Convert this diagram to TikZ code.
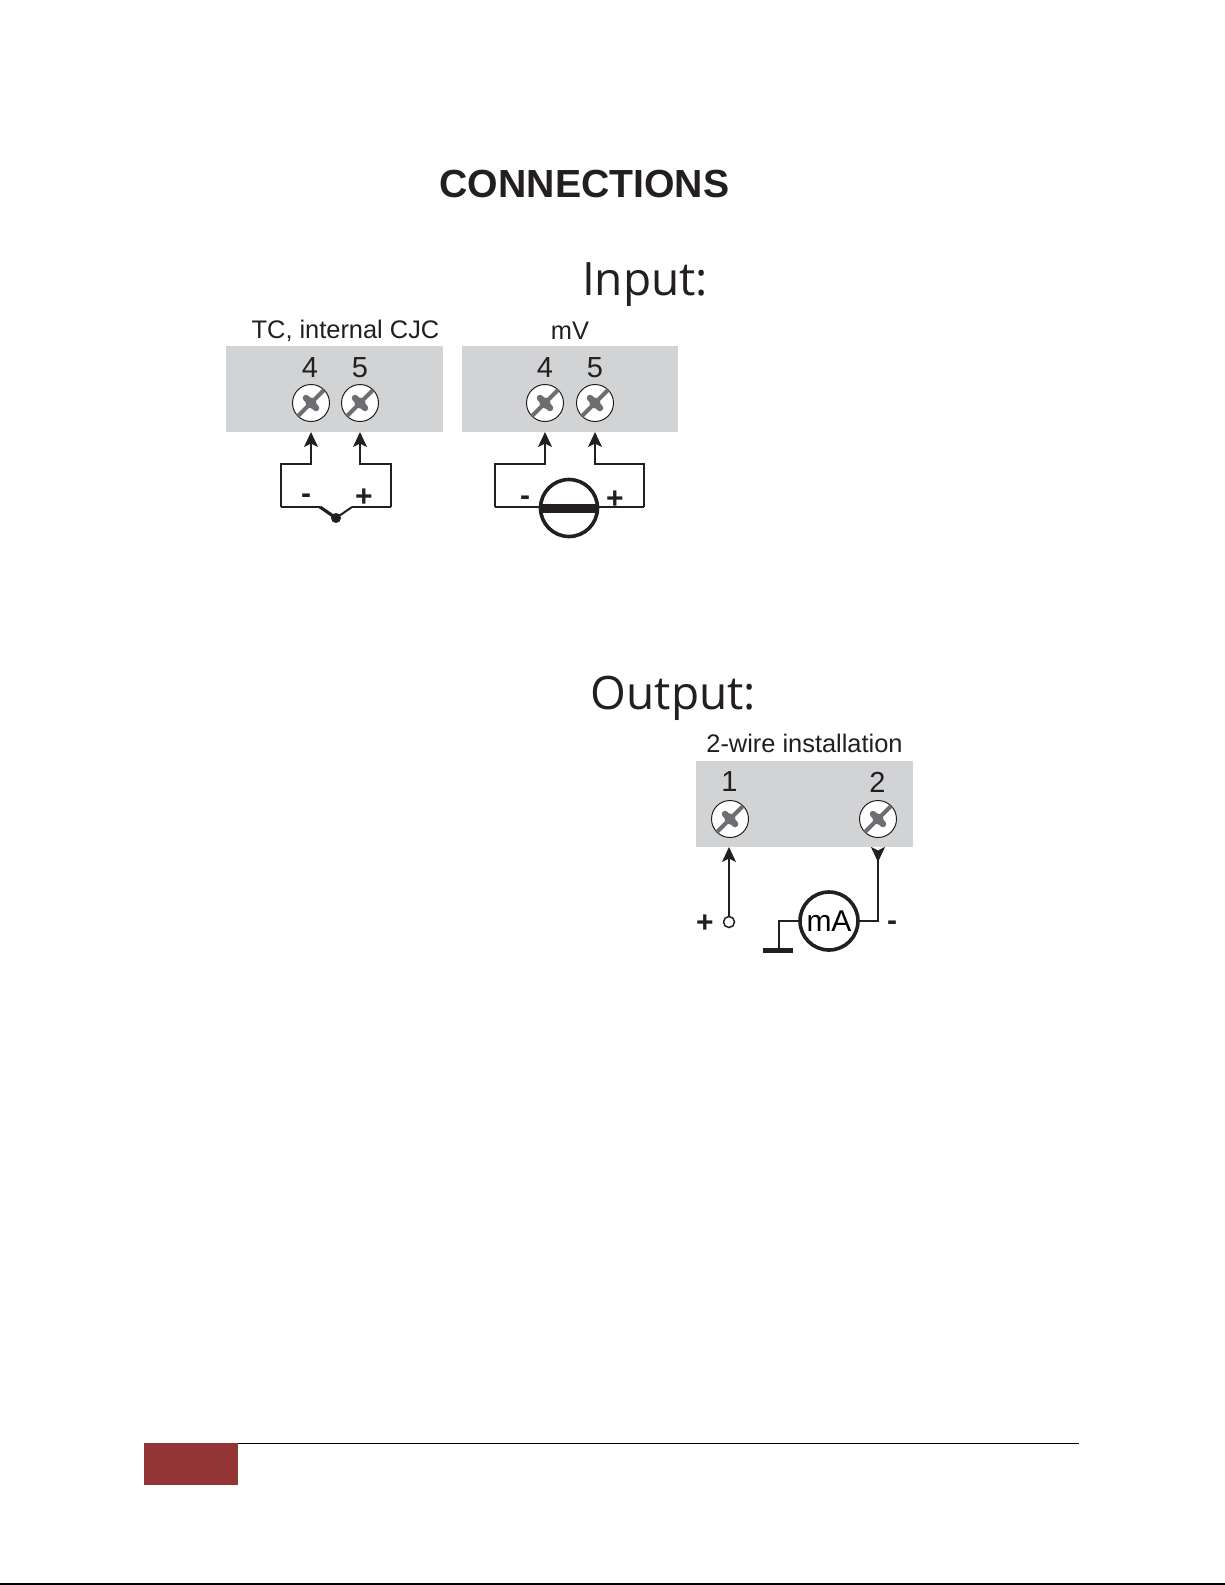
\documentclass[tikz,border=0pt]{standalone}
\usepackage{fontspec}
\setmainfont{Liberation Sans}
\newfontfamily\headfont{Open Sans}
\usetikzlibrary{arrows.meta}
\definecolor{ink}{HTML}{231F20}
\definecolor{panel}{HTML}{D1D3D4}
\definecolor{slot}{HTML}{6D6E71}
\definecolor{brick}{HTML}{943535}
\newcommand{\fsz}[1]{\fontsize{#1}{#1}\selectfont}
\tikzset{
  x=1pt,y=-1pt,
  panelbox/.style={fill=panel,draw=none,minimum width=217pt,minimum height=86pt,inner sep=0pt,anchor=north west},
  screw/.style={circle,draw=ink,fill=white,line width=1pt,minimum size=37pt,inner sep=0pt},
  wire/.style={draw=ink,line width=1.4pt,line join=miter},
  feed/.style={wire,-{Stealth[length=15pt,width=14pt,inset=3.5pt]}},
  lab/.style={text=ink,inner sep=0pt,anchor=center},
  meter/.style={circle,draw=ink,fill=white,line width=3.6pt,inner sep=0pt},
}
\newcommand{\screwcross}[1]{%
  \draw[slot,line width=4pt] ([xshift=-13pt,yshift=-13pt]#1.center) -- ([xshift=13pt,yshift=13pt]#1.center);
  \draw[slot,line width=6.5pt,line cap=round] ([xshift=-5pt,yshift=5pt]#1.center) -- ([xshift=5pt,yshift=-5pt]#1.center);
  \fill[slot] (#1.center) circle (5.5pt);
}
\begin{document}
\begin{tikzpicture}
\useasboundingbox (0,0) rectangle (1225,1585);
\fill[white] (0,0) rectangle (1225,1585);

\node[lab] (title) at (584.5,184) {\fsz{39.2}\bfseries CONNECTIONS};
\node[lab] (inputh) at (645,285) {\headfont\fsz{46}Input:};
\node[lab] (outputh) at (673.5,698) {\headfont\fsz{46}Output:};

% TC panel
\node[lab] (tclab) at (345.5,331) {\fsz{25.4}TC, internal CJC};
\node[panelbox] (p1) at (226,346) {};
\node[lab] (n14) at (310,368) {\fsz{29}4};
\node[lab] (n15) at (360,368) {\fsz{29}5};
\node[screw] (s14) at (311,403) {};
\node[screw] (s15) at (360,403) {};
\screwcross{s14}\screwcross{s15}
\coordinate (t14) at (311,432);
\coordinate (t15) at (360,432);
\coordinate (a) at (281,464);
\coordinate (b) at (281,507);
\coordinate (c) at (391,464);
\coordinate (d) at (391,507);
\coordinate (j) at (336,518);
\coordinate (jl) at (320,507);
\coordinate (jr) at (352,507);
\draw[feed] (b) -- (a) -- (a -| t14) -- (t14);
\draw[feed] (d) -- (c) -- (c -| t15) -- (t15);
\draw[wire] (b) -- (jl);
\draw[wire] (d) -- (jr);
\draw[ink,line width=2.2pt] (297,507) -- (jl);
\draw[ink,line width=3.2pt,line join=round] (jl) -- (j);
\draw[ink,line width=2pt] (j) -- (jr);
\fill[ink] (j) circle (5pt);
\node[lab] (m1) at (306,499) {\fsz{30}\bfseries -};
\node[lab] (pl1) at (364,498) {\fsz{30}\bfseries +};

% mV panel
\node[lab] (mvlab) at (570,331) {\fsz{25.4}mV};
\node[panelbox,minimum width=216pt] (p2) at (462,346) {};
\node[lab] (n24) at (545,368) {\fsz{29}4};
\node[lab] (n25) at (595,368) {\fsz{29}5};
\node[screw] (s24) at (545,403) {};
\node[screw] (s25) at (595,403) {};
\screwcross{s24}\screwcross{s25}
\coordinate (t24) at (545,432);
\coordinate (t25) at (595,432);
\coordinate (e) at (495,464);
\coordinate (f) at (495,507);
\coordinate (g) at (644,464);
\coordinate (h) at (644,507);
\draw[feed] (f) -- (e) -- (e -| t24) -- (t24);
\draw[feed] (h) -- (g) -- (g -| t25) -- (t25);
\draw[wire] (f) -- (h);
\node[meter,minimum size=57pt] (src) at (569,508) {};
\fill[ink] (541,503.5) rectangle (597,512.5);
\node[lab] (m2) at (525,501) {\fsz{30}\bfseries -};
\node[lab] (pl2) at (615,500) {\fsz{30}\bfseries +};

% Output panel
\node[lab] (wlab) at (804.5,743) {\fsz{25.4}2-wire installation};
\node[panelbox] (p3) at (696,761) {};
\node[lab] (n31) at (729.5,782) {\fsz{29}1};
\node[lab] (n32) at (877.5,782) {\fsz{29}2};
\node[screw] (s31) at (730,819) {};
\node[screw] (s32) at (878,819) {};
\screwcross{s31}\screwcross{s32}
\coordinate (t31) at (729,847);
\coordinate (t32) at (878,847);
\node[circle,draw=ink,fill=white,line width=1.5pt,minimum size=11pt,inner sep=0pt] (ring) at (729,922) {};
\draw[feed] (ring) -- (t31);
\node[meter,minimum size=58pt] (ma) at (829,921) {\fsz{30}mA};
\coordinate (corner) at (878,921);
\coordinate (gnd) at (779,949);
\draw[wire,{Stealth[length=15pt,width=14pt,inset=3.5pt,reversed]}-] (t32) -- (corner) -- (ma);
\draw[wire] (ma) -- (gnd |- ma) -- (gnd);
\fill[ink] (763,948) rectangle (793,953);
\node[lab] (pl3) at (705,924) {\fsz{30}\bfseries +};
\node[lab] (m3) at (892,926) {\fsz{30}\bfseries -};

% Footer
\fill[brick] (144,1443) rectangle (238,1485);
\draw[black,line width=1.3pt] (238,1443.5) -- (1079,1443.5);
\draw[black,line width=1.5pt] (0,1584) -- (1225,1584);
\end{tikzpicture}
\end{document}
